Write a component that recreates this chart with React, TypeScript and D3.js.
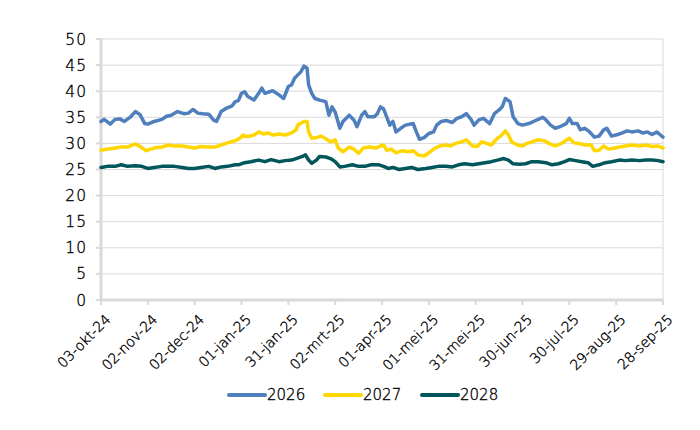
import React from 'react';
import * as d3 from 'd3';

// [day offset from 03-okt-24, value]
const series2026: [number, number][] = [
  [0, 34.2], [2, 34.6], [6, 33.7], [9, 34.6], [12, 34.7], [15, 34.2], [19, 35.1], [22, 36.1], [25, 35.5],
  [28, 33.8], [30, 33.7], [34, 34.2], [39, 34.6], [42, 35.2], [45, 35.4], [49, 36.1], [53, 35.7], [56, 35.8],
  [59, 36.5], [62, 35.8], [65, 35.7], [69, 35.6], [72, 34.5], [74, 34.2], [77, 36.1], [80, 36.7], [84, 37.2],
  [86, 38.0], [88, 38.2], [90, 39.6], [92, 39.9], [94, 39.0], [98, 38.3], [101, 39.6], [103, 40.6], [105, 39.6],
  [108, 39.9], [110, 40.1], [114, 39.3], [117, 38.6], [120, 40.9], [122, 41.2], [124, 42.5], [128, 43.7],
  [130, 44.8], [132, 44.4], [133, 41.2], [135, 39.6], [137, 38.6], [140, 38.3], [144, 38.0], [146, 35.4],
  [148, 37.0], [150, 36.0], [153, 32.9], [155, 34.2], [159, 35.4], [162, 34.5], [164, 33.2], [167, 35.4],
  [169, 36.1], [171, 35.1], [175, 35.1], [177, 35.7], [179, 37.0], [181, 36.6], [183, 35.1], [185, 33.5],
  [187, 34.2], [189, 32.2], [192, 32.9], [195, 33.5], [200, 33.8], [202, 32.2], [204, 30.8], [207, 31.1],
  [210, 31.9], [213, 32.2], [215, 33.5], [218, 34.2], [221, 34.4], [225, 34.0], [228, 34.8], [231, 35.1],
  [234, 35.7], [237, 34.6], [239, 33.5], [242, 34.5], [245, 34.8], [249, 33.8], [252, 35.7], [255, 36.4],
  [257, 37.0], [259, 38.6], [262, 38.0], [264, 35.1], [267, 33.8], [270, 33.5], [274, 33.8], [277, 34.2],
  [280, 34.6], [283, 35.0], [285, 34.5], [288, 33.5], [291, 32.9], [294, 33.2], [298, 33.8], [300, 34.8],
  [302, 33.8], [305, 33.8], [307, 32.6], [310, 32.9], [313, 32.2], [316, 31.2], [319, 31.4], [322, 32.6],
  [324, 32.9], [327, 31.4], [331, 31.7], [334, 32.0], [337, 32.4], [340, 32.2], [344, 32.4], [347, 32.0],
  [350, 32.2], [353, 31.7], [356, 32.2], [358, 31.7], [360, 31.2]
];

const series2027: [number, number][] = [
  [0, 28.7], [4, 28.9], [9, 29.1], [13, 29.3], [17, 29.3], [22, 29.9], [25, 29.4], [29, 28.6], [34, 29.1],
  [39, 29.3], [43, 29.7], [47, 29.5], [52, 29.5], [56, 29.3], [60, 29.1], [64, 29.4], [69, 29.3], [73, 29.3],
  [77, 29.7], [81, 30.1], [86, 30.5], [89, 31.0], [91, 31.6], [94, 31.3], [98, 31.6], [101, 32.2], [104, 31.8],
  [107, 32.0], [110, 31.6], [114, 31.8], [118, 31.6], [122, 32.0], [125, 32.6], [126, 33.5], [130, 34.2],
  [132, 34.2], [133, 32.2], [135, 31.0], [138, 31.1], [141, 31.4], [145, 30.7], [147, 30.3], [150, 30.7],
  [152, 29.1], [155, 28.4], [159, 29.3], [162, 28.9], [165, 28.1], [168, 29.1], [172, 29.3], [176, 29.1],
  [179, 29.5], [181, 29.7], [183, 28.7], [186, 28.9], [189, 28.2], [193, 28.6], [197, 28.4], [200, 28.6],
  [203, 27.8], [207, 27.6], [210, 28.2], [214, 29.1], [217, 29.5], [221, 29.7], [224, 29.5], [227, 30.0],
  [231, 30.3], [234, 30.7], [238, 29.5], [241, 29.4], [244, 30.3], [247, 30.0], [250, 29.7], [254, 31.0],
  [256, 31.4], [259, 32.4], [261, 31.6], [263, 30.3], [267, 29.7], [270, 29.5], [272, 29.9], [276, 30.3],
  [280, 30.7], [284, 30.5], [287, 30.0], [291, 29.5], [295, 30.0], [300, 31.0], [303, 30.1], [306, 30.0],
  [310, 29.7], [314, 29.7], [316, 28.6], [319, 28.7], [322, 29.5], [325, 28.9], [329, 29.1], [332, 29.3],
  [336, 29.5], [340, 29.7], [345, 29.5], [349, 29.7], [353, 29.4], [357, 29.5], [360, 29.1]
];

const series2028: [number, number][] = [
  [0, 25.4], [4, 25.6], [9, 25.6], [13, 25.9], [17, 25.6], [22, 25.7], [26, 25.6], [30, 25.2], [34, 25.4],
  [39, 25.6], [43, 25.6], [47, 25.6], [52, 25.4], [56, 25.2], [60, 25.2], [64, 25.4], [69, 25.6], [73, 25.2],
  [77, 25.5], [81, 25.6], [86, 25.9], [88, 25.9], [92, 26.3], [96, 26.5], [101, 26.8], [105, 26.5], [109, 26.9],
  [114, 26.5], [118, 26.7], [122, 26.8], [125, 27.1], [129, 27.5], [131, 27.8], [133, 26.8], [135, 26.2],
  [138, 26.8], [140, 27.5], [144, 27.4], [147, 27.1], [150, 26.5], [153, 25.5], [156, 25.6], [161, 25.9],
  [165, 25.6], [169, 25.6], [173, 25.9], [178, 25.9], [181, 25.6], [184, 25.2], [187, 25.4], [191, 25.0],
  [195, 25.2], [199, 25.4], [203, 25.0], [208, 25.2], [212, 25.4], [216, 25.6], [221, 25.6], [225, 25.5],
  [229, 25.9], [233, 26.1], [238, 25.9], [242, 26.1], [246, 26.3], [250, 26.5], [254, 26.8], [258, 27.1],
  [261, 26.8], [264, 26.1], [268, 26.0], [272, 26.1], [276, 26.5], [280, 26.5], [285, 26.3], [289, 25.9],
  [293, 26.1], [297, 26.5], [300, 26.9], [304, 26.7], [308, 26.5], [312, 26.3], [315, 25.6], [319, 25.9],
  [323, 26.3], [327, 26.5], [332, 26.8], [336, 26.7], [340, 26.8], [345, 26.7], [349, 26.8], [353, 26.8],
  [357, 26.7], [360, 26.5]
];

const seriesNames = ['2026', '2027', '2028'];
const seriesColors = ['#4f7fbc', '#ffd600', '#00565a'];
const yTicks = [0, 5, 10, 15, 20, 25, 30, 35, 40, 45, 50];
const monthNames = ['jan', 'feb', 'mrt', 'apr', 'mei', 'jun', 'jul', 'aug', 'sep', 'okt', 'nov', 'dec'];
const startDate = Date.UTC(2024, 9, 3);
const tickStepDays = 30;
const tickCount = 13;

const DAY = 86400000;
const toDate = (day: number) => new Date(startDate + day * DAY);

const fmt = (d: Date) =>
  `${String(d.getUTCDate()).padStart(2, '0')}-${monthNames[d.getUTCMonth()]}-${String(d.getUTCFullYear()).slice(2)}`;

const App: React.FC = () => {
  const width = 700;
  const height = 430;
  const margin = { top: 39, right: 37, bottom: 130, left: 101 };
  const innerW = width - margin.left - margin.right;
  const innerH = height - margin.top - margin.bottom;

  const xScale = d3.scaleUtc()
    .domain([toDate(0), toDate(360)])
    .range([0, innerW]);
  const yScale = d3.scaleLinear().domain([0, 50]).range([innerH, 0]);

  const xTicks = d3.range(tickCount).map(i => toDate(i * tickStepDays));

  const line = d3.line<[number, number]>()
    .x(d => xScale(toDate(d[0])))
    .y(d => yScale(d[1]));

  const allSeries = [series2026, series2027, series2028];
  const font = '"DejaVu Sans", Verdana, sans-serif';
  // light face, thickened a little so it reads as dark as the reference
  const textStyle = { fill: '#000', stroke: '#000', strokeWidth: 0.35 };

  const legendX = [229, 325, 422];

  return (
    <svg width={width} height={height} style={{ position: 'absolute', left: 0, top: 0, background: '#fff' }}
      fontFamily={font} fontWeight={200}>
      <g transform={`translate(${margin.left},${margin.top})`}>
        {yTicks.map(t => (
          <g key={t}>
            {t > 0 && (
              <line x1={0} x2={innerW} y1={yScale(t)} y2={yScale(t)} stroke="#d9d9d9" strokeWidth={1} />
            )}
            <line x1={-5} x2={0} y1={yScale(t)} y2={yScale(t)} stroke="#d9d9d9" strokeWidth={2} />
            <text x={-14} y={yScale(t)} dy="0.36em" textAnchor="end" fontSize={15.5} letterSpacing={1}
              {...textStyle}>{t}</text>
          </g>
        ))}
        <line x1={innerW} x2={innerW} y1={0} y2={innerH} stroke="#d9d9d9" strokeWidth={1} />
        <line x1={0} x2={0} y1={0} y2={innerH + 1} stroke="#d9d9d9" strokeWidth={3} />
        <line x1={0} x2={innerW} y1={innerH} y2={innerH} stroke="#d9d9d9" strokeWidth={3} />
        {xTicks.map((d, i) => (
          <g key={i} transform={`translate(${xScale(d)},${innerH})`}>
            <line y1={0} y2={5} stroke="#d9d9d9" strokeWidth={2} />
            <text transform="translate(7,17) rotate(-45)" textAnchor="end" dy="0.35em" fontSize={14}
              {...textStyle}>
              {fmt(d)}
            </text>
          </g>
        ))}
        {allSeries.map((s, i) => (
          <path key={seriesNames[i]} d={line(s) || ''} fill="none" stroke={seriesColors[i]}
            strokeWidth={3.5} strokeLinejoin="round" strokeLinecap="round" />
        ))}
      </g>
      <g>
        {seriesNames.map((n, i) => (
          <g key={n} transform={`translate(${legendX[i]},395)`}>
            <line x1={0} x2={36} y1={0} y2={0} stroke={seriesColors[i]} strokeWidth={4} strokeLinecap="round" />
            <text x={38} y={0} dy="0.36em" fontSize={15} {...textStyle}>{n}</text>
          </g>
        ))}
      </g>
    </svg>
  );
};

export default App;
